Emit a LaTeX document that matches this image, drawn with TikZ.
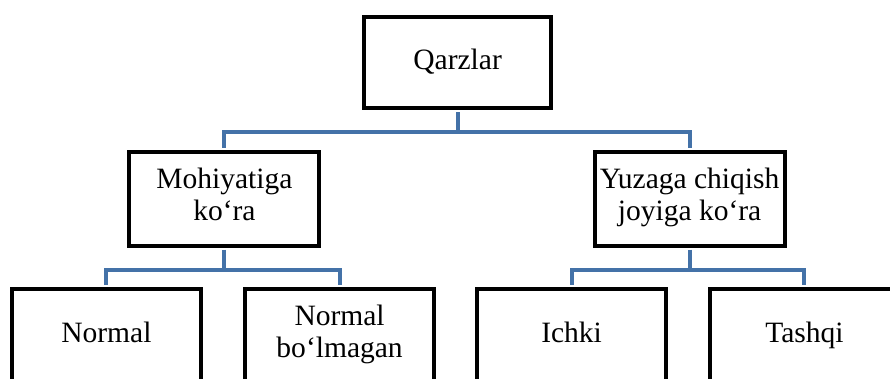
\documentclass[tikz,border=0pt]{standalone}
\usepackage{fontspec}
\setmainfont{Liberation Serif}
\definecolor{linkblue}{RGB}{68,114,168}
\begin{document}
\begin{tikzpicture}
  [box/.style={draw=black,line width=0.1cm,fill=white,minimum width=4.75cm,minimum height=2.35cm,
     align=center,inner sep=0pt,font=\fontsize{21}{23}\selectfont,
     execute at begin node=\strut,execute at end node=\strut},
   link/.style={draw=linkblue,line width=0.1cm,shorten <=0.05cm,shorten >=0.05cm}]
    \clip (0,0) rectangle (22.25,9.475);
    \node (q)  [box,minimum width=4.68cm,minimum height=2.28cm] at (11.44,7.91) {Qarzlar};
    \node (m)  [box] at (5.61,4.5)  {Mohiyatiga\\ko‘ra};
    \node (y)  [box] at (17.24,4.5) {Yuzaga chiqish\\joyiga ko‘ra};
    \node (mn) [box,minimum width=4.72cm] at (2.66,1.075)  {Normal};
    \node (mb) [box,minimum width=4.72cm] at (8.49,1.075)  {Normal\\bo‘lmagan};
    \node (yi) [box,minimum width=4.72cm] at (14.29,1.075) {Ichki};
    \node (yt) [box,minimum width=4.72cm] at (20.11,1.075) {Tashqi};

    \foreach \from/\to in {q/m,q/y,m/mn,m/mb,y/yi,y/yt}
      \draw[link] (\from.south) -- ++(0,-0.55) -| (\to.north);
\end{tikzpicture}
\end{document}
